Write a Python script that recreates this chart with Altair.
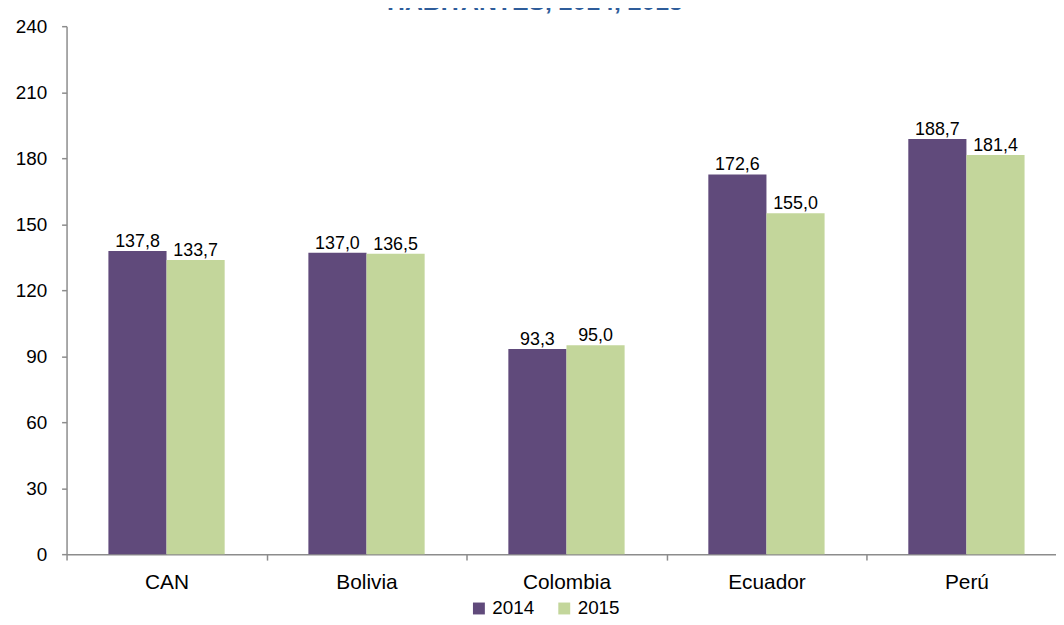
import altair as alt
import pandas as pd

categories = ["CAN", "Bolivia", "Colombia", "Ecuador", "Perú"]
years = ["2014", "2015"]
values_2014 = [137.8, 137.0, 93.3, 172.6, 188.7]
values_2015 = [133.7, 136.5, 95.0, 155.0, 181.4]
title_text = "HABITANTES, 2014, 2015"
y_ticks = [0, 30, 60, 90, 120, 150, 180, 210, 240]

rows = []
for c, a, b in zip(categories, values_2014, values_2015):
    rows.append({"cat": c, "year": years[0], "value": a})
    rows.append({"cat": c, "year": years[1], "value": b})
df = pd.DataFrame(rows)

FONT = "Liberation Sans"
GRAY = "#8c8c8c"

x_enc = alt.X(
    "cat:N",
    sort=categories,
    scale=alt.Scale(range=[0, 1007.5], paddingInner=0, paddingOuter=0),
    axis=alt.Axis(
        title=None, labelAngle=0, tickBand="extent", tickSize=6, labelPadding=12,
        labelFontSize=21, labelFont=FONT, labelColor="black",
        domainColor=GRAY, tickColor=GRAY, domainWidth=1.5, tickWidth=1.5,
    ),
)
y_enc = alt.Y(
    "value:Q",
    scale=alt.Scale(domain=[0, 240], nice=False),
    axis=alt.Axis(
        title=None, values=y_ticks, grid=False, tickSize=5, labelPadding=15,
        labelFontSize=19, labelFont=FONT, labelColor="black",
        domainColor=GRAY, tickColor=GRAY, domainWidth=1.5, tickWidth=1.5,
    ),
)
xoff = alt.XOffset("year:N", sort=years, scale=alt.Scale(paddingOuter=0.72, paddingInner=0))

base = alt.Chart(df)

bars = base.mark_bar().encode(
    x=x_enc,
    y=y_enc,
    xOffset=xoff,
    color=alt.Color(
        "year:N",
        sort=years,
        scale=alt.Scale(domain=years, range=["#604A7B", "#C3D69B"]),
        legend=alt.Legend(
            title=None, orient="none", direction="horizontal",
            legendX=406, legendY=577, symbolType="square", symbolSize=144,
            symbolStrokeWidth=0, labelFontSize=19, labelFont=FONT, labelColor="black",
            labelOffset=4, columnPadding=20,
        ),
    ),
)

labels = base.transform_calculate(
    label="replace(format(datum.value, '.1f'), '.', ',')"
).mark_text(baseline="alphabetic", dy=-4, fontSize=18, font=FONT, color="black").encode(
    x=x_enc,
    y=y_enc,
    xOffset=xoff,
    text="label:N",
)

title = alt.Chart(pd.DataFrame({"t": [title_text]})).mark_text(
    fontSize=25, fontWeight="bold", font=FONT, color="#2E5C9A", baseline="alphabetic", align="center"
).encode(
    x=alt.value(472),
    y=alt.value(-16),
    text="t:N",
)

chart = alt.layer(bars, labels, title).properties(
    width=997,
    height=532,
    autosize=alt.AutoSizeParams(type="none"),
    padding={"left": 59, "right": 0, "top": 16, "bottom": 61},
).configure_view(stroke=None)

chart.save("out.html", embed_options={"renderer": "svg", "actions": False})
